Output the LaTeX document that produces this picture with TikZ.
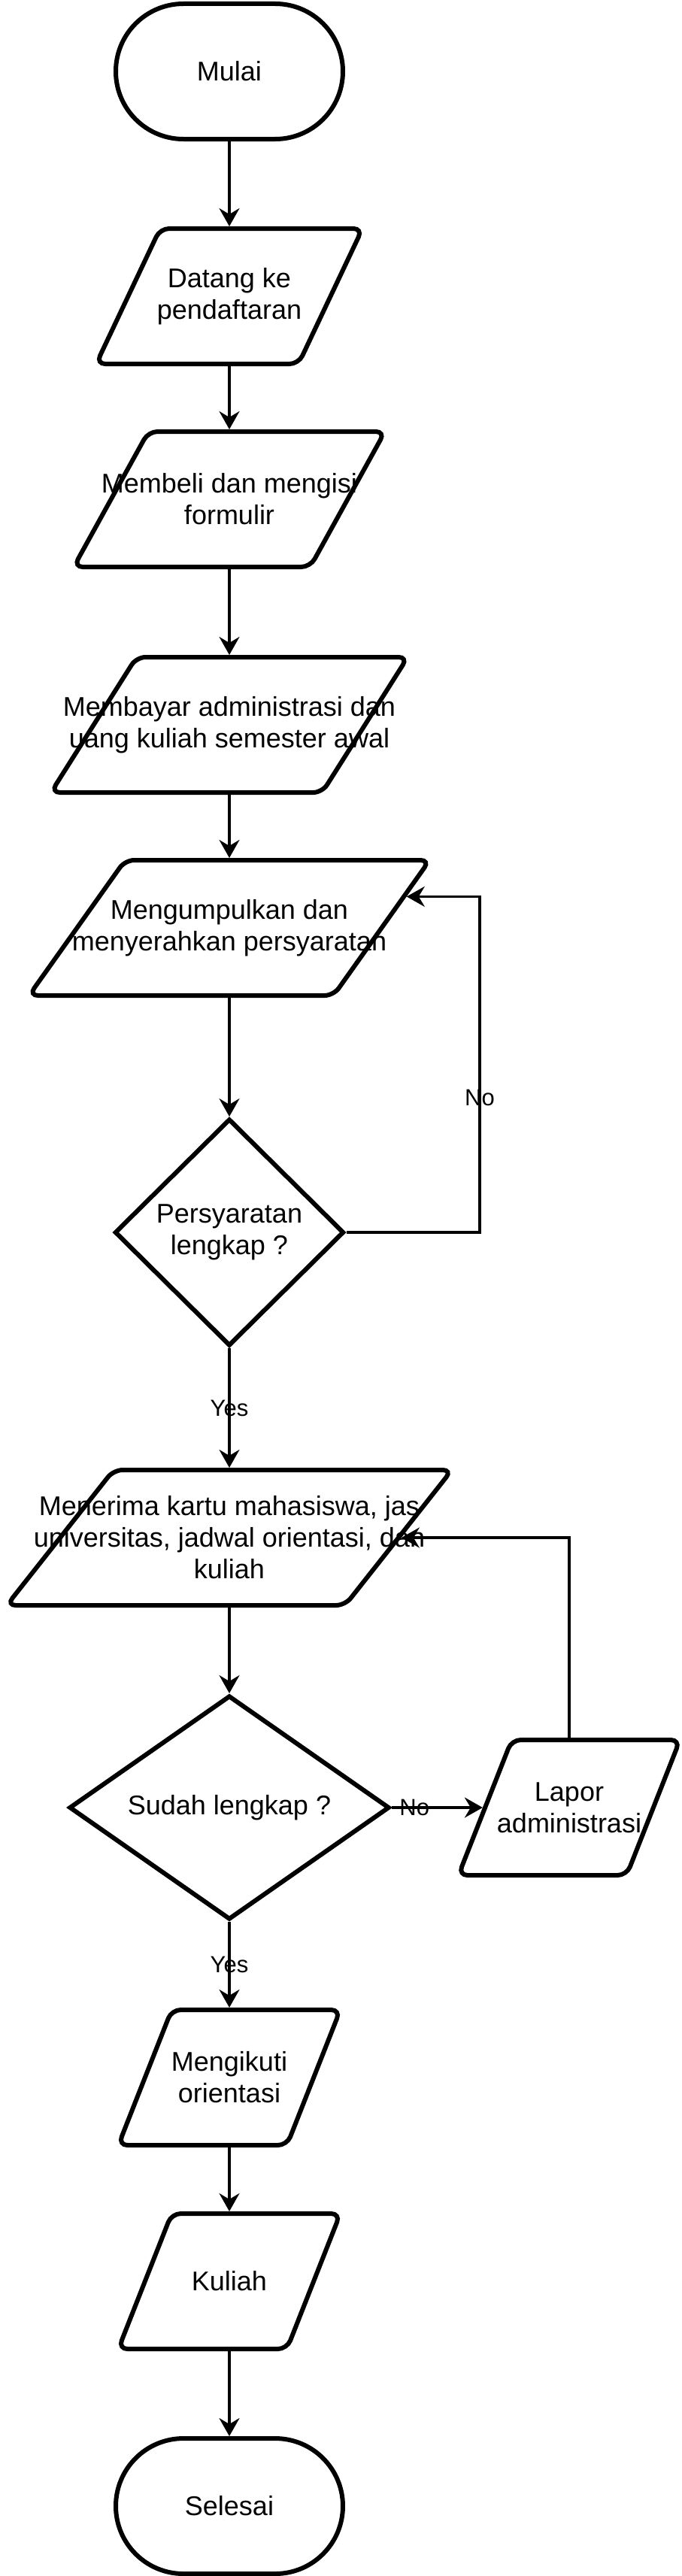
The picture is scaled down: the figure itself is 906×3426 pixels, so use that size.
\documentclass[tikz,border=0pt]{standalone}
\usepackage{fontspec}
\setmainfont{Liberation Sans}
\usetikzlibrary{shapes.geometric, arrows.meta, positioning}

\begin{document}
\begin{tikzpicture}[
        font=\fontsize{36}{42}\selectfont,
        term/.style={draw, line width=6pt, rectangle, rounded corners=90pt, minimum width=302pt, minimum height=180pt},
        io/.style 2 args={draw, line width=6pt, trapezium, trapezium left angle=#1, trapezium right angle={180-#1}, rounded corners=12pt, inner ysep=90pt, inner xsep={0.26*#2}},
        isi/.style={align=center},
        cek/.style={draw, line width=6pt, diamond, inner sep=0pt, align=center},
        panah/.style={-{Stealth[length=24pt, width=27pt, inset=8pt]}, line width=3.3pt},
        ket/.style={font=\fontsize{31}{36}\selectfont}
    ]
            \useasboundingbox (-305pt, 95pt) rectangle (601pt, -3331pt);
            \node[term] (mulai) at (0, 0) {Mulai};
            \node[io={64.7}{354pt}, below of = mulai, node distance=299pt, label={[isi]center:{Datang ke\\pendaftaran}}] (datang) {};
            \node[io={61.1}{414pt}, below of = datang, node distance=270pt, label={[isi]center:{Membeli dan mengisi\\formulir}}] (membeli) {};
            \node[io={57.7}{475pt}, below of = membeli, node distance=300pt, label={[isi]center:{Membayar administrasi dan\\uang kuliah semester awal}}] (membayar) {};
            \node[io={54.6}{533pt}, below of = membayar, node distance=270pt, label={[isi]center:{Mengumpulkan dan\\menyerahkan persyaratan}}] (kumpul) {};
            \node[cek, aspect=1, minimum width=305pt, minimum height=302pt, below of = kumpul, node distance=405pt] (cek1) {Persyaratan\\lengkap ?};
            \coordinate[right of = cek1, node distance=333pt] (balik);
            \node[io={51.7}{592pt}, below of = cek1, node distance=406pt, label={[isi]center:{Menerima kartu mahasiswa, jas\\universitas, jadwal orientasi, dan\\kuliah}}] (terima) {};
            \node[cek, aspect=2, minimum width=426pt, minimum height=298pt, below of = terima, node distance=359pt] (cek2) {Sudah lengkap ?};
            \node[io={68.5}{294pt}, right of = cek2, node distance=452pt, label={[isi]center:{Lapor\\administrasi}}] (lapor) {};
            \node[io={68.5}{295pt}, below of = cek2, node distance=359pt, label={[isi]center:{Mengikuti\\orientasi}}] (ikut) {};
            \node[io={68.5}{295pt}, below of = ikut, node distance=271pt, label={[isi]center:{Kuliah}}] (kuliah) {};
            \node[term, below of = kuliah, node distance=299pt] (selesai) {Selesai};
            \draw[panah] (mulai) -- (datang);
            \draw[panah] (datang) -- (membeli);
            \draw[panah] (membeli) -- (membayar);
            \draw[panah] (membayar) -- (kumpul);
            \draw[panah] (kumpul) -- (cek1);
            \draw[panah] (cek1) -- node[ket]{Yes} (terima);
            \draw[panah] (cek1.east) -- (balik) |- node[ket, pos=0.2]{No} (kumpul.10);
            \draw[panah] (terima) -- (cek2);
            \draw[panah] (cek2.east) -- node[ket, pos=0.25]{No} (lapor.west);
            \draw[panah] (lapor.north) |- (terima.east);
            \draw[panah] (cek2) -- node[ket]{Yes} (ikut);
            \draw[panah] (ikut) -- (kuliah);
            \draw[panah] (kuliah) -- (selesai);
        \end{tikzpicture}
\end{document}
